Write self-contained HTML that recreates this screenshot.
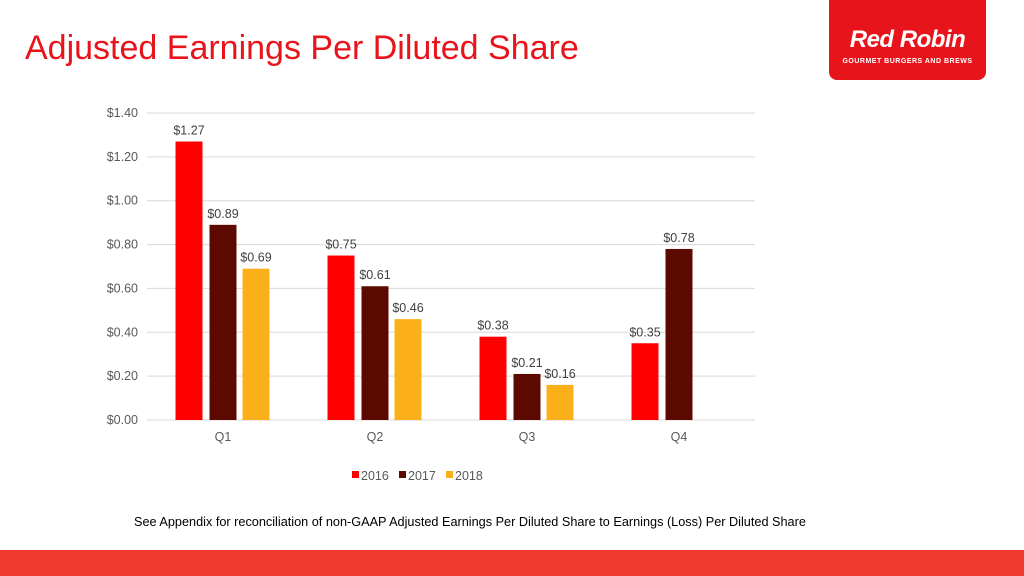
<!DOCTYPE html>
<html><head><meta charset="utf-8"><style>
body{margin:0;width:1024px;height:576px;overflow:hidden;background:#fff;font-family:"Liberation Sans",sans-serif;position:relative}
#title{position:absolute;left:25px;top:29px;font-size:34px;color:#e8141c;margin:0;font-weight:normal}
#logo{position:absolute;left:829px;top:0;width:157px;height:80px;background:#e8141c;border-radius:0 0 8px 8px;color:#fff;text-align:center}
#band{position:absolute;left:0;top:550px;width:1024px;height:26px;background:#f03a30}
#note{position:absolute;left:134px;top:515px;font-size:12.7px;color:#000}
</style></head><body>
<h1 id="title">Adjusted Earnings Per Diluted Share</h1>
<div id="logo">
<div style="font:italic bold 24px 'Liberation Sans',sans-serif;margin-top:26px;letter-spacing:-0.5px">Red Robin</div>
<div style="font:bold 7px 'Liberation Sans',sans-serif;margin-top:4px;letter-spacing:0.5px">GOURMET BURGERS AND BREWS</div>
</div>
<svg id="chart" width="1024" height="576" style="position:absolute;left:0;top:0"></svg>
<div id="note">See Appendix for reconciliation of non-GAAP Adjusted Earnings Per Diluted Share to Earnings (Loss) Per Diluted Share</div>
<div id="band"></div>
<script>
const categories=["Q1","Q2","Q3","Q4"];
const seriesNames=["2016","2017","2018"];
const s2016=[1.27,0.75,0.38,0.35];
const s2017=[0.89,0.61,0.21,0.78];
const s2018=[0.69,0.46,0.16,null];
const yTicks=[0,0.2,0.4,0.6,0.8,1.0,1.2,1.4];
const colors=["#ff0000","#5c0a00","#fbb01a"];
const ns="http://www.w3.org/2000/svg";
const svg=document.getElementById('chart');
const x0=147,x1=755,yBase=420,yTop=113,yMax=1.4;
const y=v=>yBase-(v/yMax)*(yBase-yTop);
const gw=(x1-x0)/categories.length;
const xc=i=>x0+gw*(i+0.5);
function el(t,a){const e=document.createElementNS(ns,t);for(const k in a)e.setAttribute(k,a[k]);svg.appendChild(e);return e;}
yTicks.forEach(t=>{
 const l=el('line',{x1:x0,x2:x1,y1:y(t),y2:y(t),stroke:'#d9d9d9','stroke-width':1});
 
 
 const tx=el('text',{x:138,y:y(t)+4,'text-anchor':'end','font-size':12.5,fill:'#595959','font-family':'Liberation Sans, sans-serif'});
 tx.textContent='$'+t.toFixed(2);
 
 
});
const series=[s2016,s2017,s2018];
const bw=27,off=[-34,0,33];
series.forEach((s,si)=>{
 s.forEach((v,i)=>{
  if(v==null)return;
  const cx=xc(i)+off[si];
  const r=el('rect',{x:cx-bw/2,y:y(v),width:bw,height:yBase-y(v),fill:colors[si]});
  
  
  const t=el('text',{x:cx,y:y(v)-7,'text-anchor':'middle','font-size':12.5,fill:'#404040','font-family':'Liberation Sans, sans-serif'});
  t.textContent='$'+v.toFixed(2);
  
  
 });
});
categories.forEach((c,i)=>{
 const t=el('text',{x:xc(i),y:441,'text-anchor':'middle','font-size':12.5,fill:'#595959','font-family':'Liberation Sans, sans-serif'});
 t.textContent=c;
 
 
});
let lx=352;
seriesNames.forEach((n,i)=>{
 const r=el('rect',{x:lx,y:471,width:7,height:7,fill:colors[i]});
 
 
 const t=el('text',{x:lx+9,y:480,'font-size':12.5,fill:'#595959','font-family':'Liberation Sans, sans-serif'});
 t.textContent=n;
 
 
 lx+=47;
});
</script>
</body></html>
